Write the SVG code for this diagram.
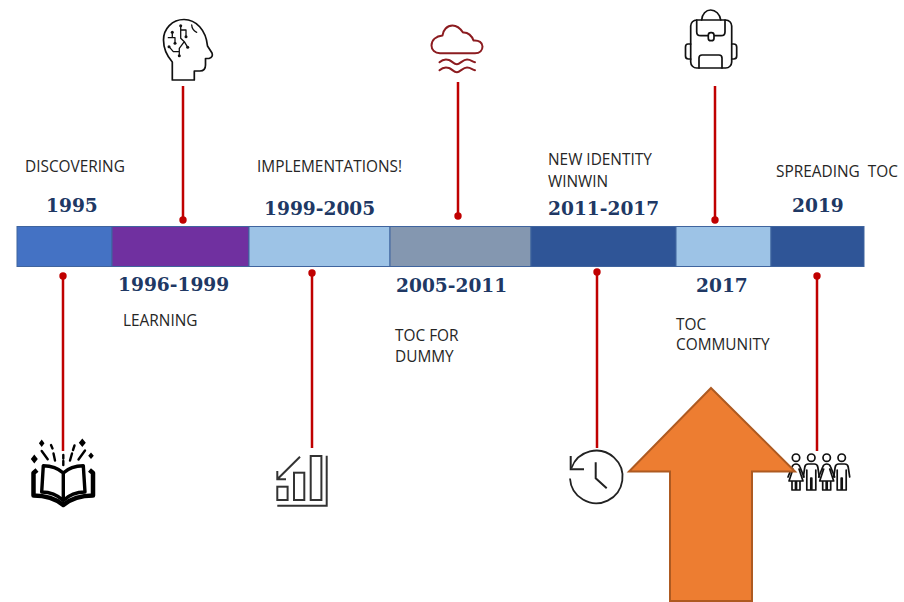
<svg xmlns="http://www.w3.org/2000/svg" width="904" height="602" viewBox="0 0 904 602">
<style>
.lb{font:15.4px "Open Sans","Noto Sans",sans-serif;fill:#262626}
.yr{font:bold 18.6px "DejaVu Serif",serif;fill:#203864}
.ln{stroke:#c00000;stroke-width:2.5;fill:none}
.dot{fill:#c00000}
.ic{fill:none;stroke:#111;stroke-width:1.7;stroke-linecap:round;stroke-linejoin:round}
.seg{stroke:#3f649e;stroke-width:1}
</style>
<defs>
<g id="man" class="ic"><path d="M-8 13L-6.500 3Q-6 0-3 0H3Q6 0 6.500 3L8 13M-4.500 6V26H-.5V14H.5V26H4.500V6"/></g>
<g id="woman" class="ic"><path d="M-8 13L-4 3Q-3 0 0 0Q3 0 4 3L8 13M-3 5L-7 17H7L3 5M-4 17V26H-.5V17M.5 17V26H4V17"/></g>
</defs>
<rect width="904" height="602" fill="#fff"/>
<g id="bar">
<rect class="seg" x="17" y="226.500" width="95" height="40" fill="#4472c4"/>
<rect class="seg" x="112" y="226.500" width="137" height="40" fill="#7030a0"/>
<rect class="seg" x="249" y="226.500" width="141" height="40" fill="#9dc3e6"/>
<rect class="seg" x="390" y="226.500" width="141" height="40" fill="#8497b0"/>
<rect class="seg" x="531" y="226.500" width="145" height="40" fill="#2f5597"/>
<rect class="seg" x="676" y="226.500" width="95" height="40" fill="#9dc3e6"/>
<rect class="seg" x="771" y="226.500" width="93" height="40" fill="#2f5597"/>
</g>
<g id="connectors">
<path class="ln" d="M63 276V451M183 86V220M312 273V448M458 82V216M597 272V448M715 86V220M817 276V451"/>
<circle class="dot" cx="63" cy="276" r="3.700"/><circle class="dot" cx="183" cy="220" r="3.700"/><circle class="dot" cx="312" cy="273" r="3.700"/><circle class="dot" cx="458" cy="216" r="3.700"/><circle class="dot" cx="597" cy="272" r="3.700"/><circle class="dot" cx="715" cy="220" r="3.700"/><circle class="dot" cx="817" cy="276" r="3.700"/>
</g>
<g id="labels">
<text class="lb" x="25" y="172">DISCOVERING</text>
<text class="yr" x="46" y="212">1995</text>
<text class="yr" x="118" y="291">1996-1999</text>
<text class="lb" x="123" y="326">LEARNING</text>
<text class="lb" x="257" y="172">IMPLEMENTATIONS!</text>
<text class="yr" x="264" y="215">1999-2005</text>
<text class="yr" x="396" y="292">2005-2011</text>
<text class="lb" x="395" y="341">TOC FOR</text>
<text class="lb" x="395" y="362">DUMMY</text>
<text class="lb" x="548" y="165">NEW IDENTITY</text>
<text class="lb" x="548" y="187">WINWIN</text>
<text class="yr" x="548" y="215">2011-2017</text>
<text class="yr" x="696" y="292">2017</text>
<text class="lb" x="676" y="330">TOC</text>
<text class="lb" x="676" y="350">COMMUNITY</text>
<text class="lb" x="776" y="177" xml:space="preserve">SPREADING  TOC</text>
<text class="yr" x="792" y="212">2019</text>
</g>
<g id="icon-head" class="ic">
<path d="M172.300 80H194.300V71H200Q205.500 71 205.500 65V58.500H209Q213.500 57 212 53L207.500 46C206 30 196 19.500 184 19.500C172 19.500 163.500 29 163.500 40C163.500 50 167 56 172.300 62Z"/>
<path stroke-width="1.300" d="M172.300 32.300V37.700M168.300 37.700H175V43.300M180.700 25.700V38.300L184.300 41.700L179.300 48.300V55.700M180.700 30H186V36.700M184.300 41.700L187.700 47.300M169 46.700L173.300 51.700H178.300M191.700 25Q192 30 196.700 32.300"/>
<g fill="#111" stroke="none"><circle cx="172.300" cy="32.300" r="1.500"/><circle cx="175" cy="43.300" r="1.500"/><circle cx="180.700" cy="25.700" r="1.500"/><circle cx="186" cy="36.700" r="1.500"/><circle cx="187.700" cy="47.300" r="1.500"/><circle cx="179.300" cy="55.700" r="1.500"/><circle cx="169" cy="46.700" r="1.500"/></g>
</g>
<g id="icon-cloud" class="ic" style="stroke:#8c1c20;stroke-width:2">
<path d="M440 53.300H475C480 53.300 482.500 50 482.500 46.500C482.500 42.500 479 40 473.500 40.500C472 36 468 32 463 32.500C460 28 457 25.500 452.500 25.500C447 25.500 443 30 442.500 35.500C436 36 431.500 40 431.500 45.500C431.500 50 435 53 440 53.300Z"/>
<path d="M439.500 62.300C443 59 446 59 449 60S454 64.500 457 64.300S463 59.500 467 59.500S472 61.500 475 62.300M439.500 70.300C443 67 446 67 449 68S454 72.500 457 72.300S463 67.500 467 67.500S472 69.500 475 70.300"/>
</g>
<g id="icon-backpack" class="ic">
<rect x="690.700" y="20" width="41" height="48" rx="6"/>
<path d="M701.700 20C702 14 706 10 710.700 10S720 14 720.700 20M696.700 20V32Q696.700 35.700 700.700 35.700H721Q725 35.700 725 32V20M699 68V58Q699 55 702 55H719Q722 55 722 58V68M690.700 44H688Q685.500 44 685.500 47V56Q685.500 59 688.500 59H690.700M731.700 44H733.700Q736.700 44 736.700 47V56Q736.700 59 733.700 59H731.700"/>
<rect x="708.300" y="32.700" width="5.700" height="8" rx="2.500" fill="#fff"/>
</g>
<g id="icon-book">
<path d="M63.300 473C58 468 51 465.700 43.300 465.700L41.700 492C50 492 58 495.500 63.300 500.500C68.500 495.500 76.500 492 85 492L83.300 465.700C75.500 465.700 68.500 468 63.300 473V500.500" fill="none" stroke="#000" stroke-width="3.400" stroke-linejoin="round"/>
<path d="M37 470L33.500 473V495.500C45 495.500 56 499 63.300 505C70.500 499 81.500 495.500 93 495.500V473L89.500 470" fill="none" stroke="#000" stroke-width="4.500" stroke-linejoin="round"/>
<path d="M41.700 451L47.700 459.300M51 445L52.500 448.500M53.500 453.500L55 460.500M63.300 455V458.500M63.300 461V465M74.500 445.500L73 450M72 453.500L70 460.500M85 450.500L78.500 459.500" fill="none" stroke="#000" stroke-width="2.400" stroke-linecap="round"/>
<path fill="#000" d="M41.700 439.500L44.500 443.300L41.700 447L38.900 443.300ZM34.300 454.500L37.800 459L34.300 463.500L30.800 459ZM82.300 438.500L85.800 442.700L82.300 447L78.800 442.700ZM91 452.500L93.800 455.700L91 459L88.200 455.700Z"/>
</g>
<g id="icon-chart" fill="none" stroke="#333" stroke-width="2">
<rect x="277.300" y="486.700" width="10.300" height="13.300"/>
<rect x="294" y="472.700" width="10.300" height="27.300"/>
<rect x="310.700" y="456" width="10.700" height="44"/>
<path d="M326.700 455.700V505.700H277.300M300 456.700L277.300 479.300M277.300 471V479.300H286"/>
</g>
<g id="icon-clock" fill="none" stroke="#222" stroke-width="1.800">
<path d="M570 478.500A26.300 26.300 0 1 0 571.500 468"/>
<path d="M570.700 456V469.300H584M595.700 462.300V478.300L606.700 488.300" stroke-width="2"/>
</g>
<g id="icon-people">
<g class="ic"><circle cx="796" cy="457.700" r="3.700"/><circle cx="811.300" cy="457.700" r="3.700"/><circle cx="826.700" cy="457.700" r="3.700"/><circle cx="841.700" cy="457.700" r="3.700"/></g>
<use href="#woman" x="796" y="464"/><use href="#man" x="811.300" y="464"/><use href="#woman" x="826.700" y="464"/><use href="#man" x="841.700" y="464"/>
</g>
<g id="arrow"><path d="M711 388L795 471.500H752V601H670V471.500H629Z" fill="#ed7d31" stroke="#ae5a21" stroke-width="2"/></g>
</svg>
